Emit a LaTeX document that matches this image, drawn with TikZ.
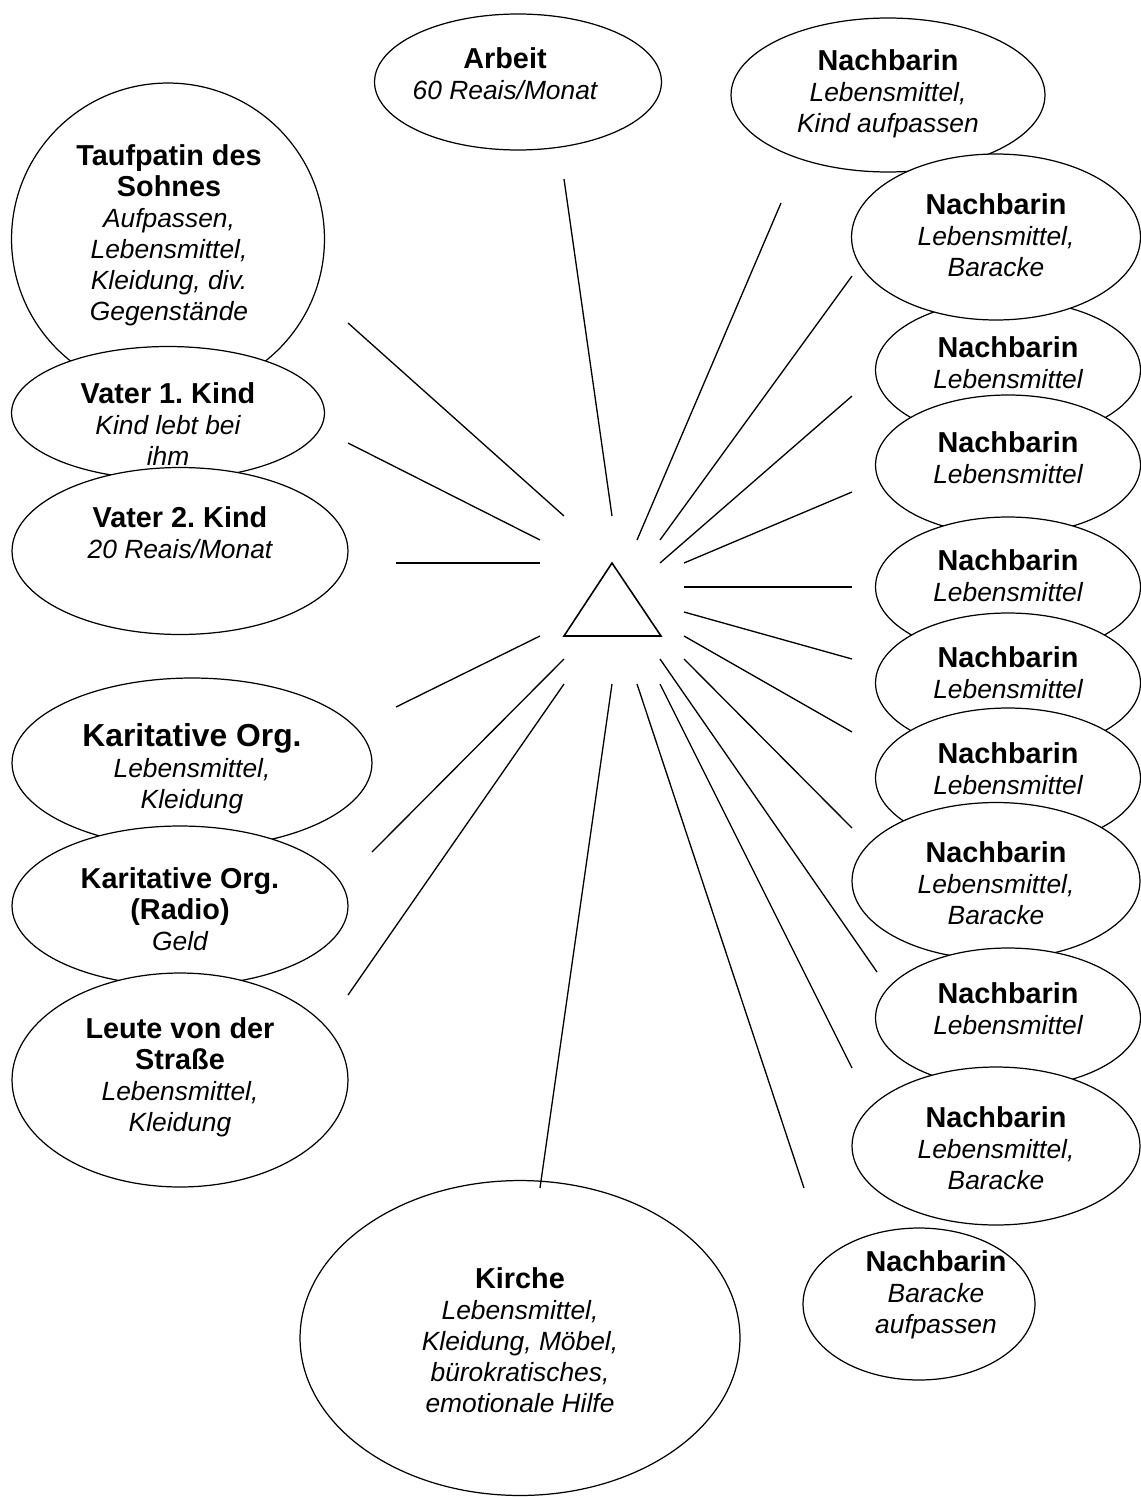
\documentclass[tikz,border=0pt]{standalone}
\usepackage{fontspec}
\setmainfont{Liberation Sans}
\usetikzlibrary{shapes.geometric}
\frenchspacing
\newcommand{\pname}[1]{{\fontsize{16.4}{17.7}\selectfont\bfseries #1}}
\newcommand{\pnamebig}[1]{{\fontsize{18.1}{17.7}\selectfont\bfseries #1}}
\newcommand{\ptext}[1]{{\itshape #1}}

\begin{document}
\begin{tikzpicture}[
  x=0.02cm, y=-0.02cm,
  person/.style={ellipse, draw, fill=white, line width=0.7pt, inner sep=0pt},
  support/.style={anchor=north, align=center, inner sep=0pt,
                  font=\fontsize{15}{17.7}\selectfont},
  tie/.style={line width=0.75pt},
  ego/.style={line width=0.9pt, line join=miter}
]
\useasboundingbox (0,0) rectangle (1141,1497);

% Left column
\node[person, minimum width=6.26cm, minimum height=6.24cm] (taufpatin) at (168,239) {};
\node[support] (taufpatintxt) at (169,144) {\pname{Taufpatin des}\\\pname{Sohnes}\\\ptext{Aufpassen,}\\\ptext{Lebensmittel,}\\\ptext{Kleidung, div.}\\\ptext{Gegenstände}};
\node[person, minimum width=6.26cm, minimum height=2.66cm] (vater1) at (168,413) {};
\node[support] (vater1txt) at (168,382) {\pname{Vater 1. Kind}\\\ptext{Kind lebt bei}\\\ptext{ihm}};
\node[person, minimum width=6.72cm, minimum height=3.34cm] (vater2) at (180,551) {};
\node[support] (vater2txt) at (180,506) {\pname{Vater 2. Kind}\\\ptext{20 Reais/Monat}};

\node[person, minimum width=7.20cm, minimum height=3.40cm] (karit) at (192,763) {};
\node[support] (karittxt) at (192,723) {\pnamebig{Karitative Org.}\\\ptext{Lebensmittel,}\\\ptext{Kleidung}};
\node[person, minimum width=6.72cm, minimum height=3.20cm] (radio) at (180,906) {};
\node[support] (radiotxt) at (180,867) {\pname{Karitative Org.}\\\pname{(Radio)}\\\ptext{Geld}};
\node[person, minimum width=6.72cm, minimum height=4.28cm] (leute) at (180,1080) {};
\node[support] (leutetxt) at (180,1017) {\pname{Leute von der}\\\pname{Straße}\\\ptext{Lebensmittel,}\\\ptext{Kleidung}};

% Top and bottom
\node[person, minimum width=5.74cm, minimum height=2.72cm] (arbeit) at (518,82) {};
\node[support] (arbeittxt) at (505,47) {\pname{Arbeit}\\\ptext{60 Reais/Monat}};
\node[person, minimum width=8.80cm, minimum height=6.30cm] (kirche) at (520,1338) {};
\node[support] (kirchetxt) at (520,1267) {\pname{Kirche}\\\ptext{Lebensmittel,}\\\ptext{Kleidung, Möbel,}\\\ptext{bürokratisches,}\\\ptext{emotionale Hilfe}};

% Right column (neighbours)
\node[person, minimum width=6.28cm, minimum height=3.08cm] (nb1) at (888,95) {};
\node[support] (nb1txt) at (888,49) {\pname{Nachbarin}\\\ptext{Lebensmittel,}\\\ptext{Kind aufpassen}};
\node[person, minimum width=5.30cm, minimum height=2.80cm] (nb3) at (1008,370) {};
\node[support] (nb3txt) at (1008,336) {\pname{Nachbarin}\\\ptext{Lebensmittel}};
\node[person, minimum width=5.78cm, minimum height=3.32cm] (nb2) at (996,237) {};
\node[support] (nb2txt) at (996,193) {\pname{Nachbarin}\\\ptext{Lebensmittel,}\\\ptext{Baracke}};
\node[person, minimum width=5.30cm, minimum height=2.80cm] (nb4) at (1008,465) {};
\node[support] (nb4txt) at (1008,431) {\pname{Nachbarin}\\\ptext{Lebensmittel}};
\node[person, minimum width=5.30cm, minimum height=2.80cm] (nb5) at (1008,587) {};
\node[support] (nb5txt) at (1008,549) {\pname{Nachbarin}\\\ptext{Lebensmittel}};
\node[person, minimum width=5.30cm, minimum height=2.80cm] (nb6) at (1008,683) {};
\node[support] (nb6txt) at (1008,646) {\pname{Nachbarin}\\\ptext{Lebensmittel}};
\node[person, minimum width=5.30cm, minimum height=2.80cm] (nb7) at (1008,778) {};
\node[support] (nb7txt) at (1008,742) {\pname{Nachbarin}\\\ptext{Lebensmittel}};
\node[person, minimum width=5.76cm, minimum height=3.14cm] (nb8) at (996,881) {};
\node[support] (nb8txt) at (996,841) {\pname{Nachbarin}\\\ptext{Lebensmittel,}\\\ptext{Baracke}};
\node[person, minimum width=5.30cm, minimum height=2.80cm] (nb9) at (1008,1018) {};
\node[support] (nb9txt) at (1008,982) {\pname{Nachbarin}\\\ptext{Lebensmittel}};
\node[person, minimum width=5.76cm, minimum height=3.16cm] (nb10) at (996,1146) {};
\node[support] (nb10txt) at (996,1106) {\pname{Nachbarin}\\\ptext{Lebensmittel,}\\\ptext{Baracke}};
\node[person, minimum width=4.64cm, minimum height=3.04cm] (nb11) at (919,1304) {};
\node[support] (nb11txt) at (936,1250) {\pname{Nachbarin}\\\ptext{Baracke}\\\ptext{aufpassen}};

% Ego and ties
\coordinate (ich) at (612,600);
\draw[ego] (612,563) -- (661,636) -- (564,636) -- cycle;
\foreach \who/\ix/\iy/\ox/\oy in {
  taufpatin/564/516/348/323, arbeit/612/516/564/179,
  nb1/637/540/781/203, nb2/660/540/852/276, nb3/660/563/852/396,
  nb4/684/563/852/492, nb5/684/587/852/587, nb6/684/612/852/659,
  nb7/684/636/852/732, nb8/684/659/852/828, nb9/660/659/877/972,
  nb10/660/684/852/1068, nb11/637/684/804/1188, kirche/612/684/540/1188,
  leute/564/684/348/995, radio/564/659/372/852, karit/540/636/396/707,
  vater2/540/563/396/563, vater1/540/540/348/443} {
  \coordinate (in-\who) at (\ix,\iy);
  \coordinate (out-\who) at (\ox,\oy);
  \draw[tie] (in-\who) -- (out-\who);
}

\end{tikzpicture}
\end{document}
